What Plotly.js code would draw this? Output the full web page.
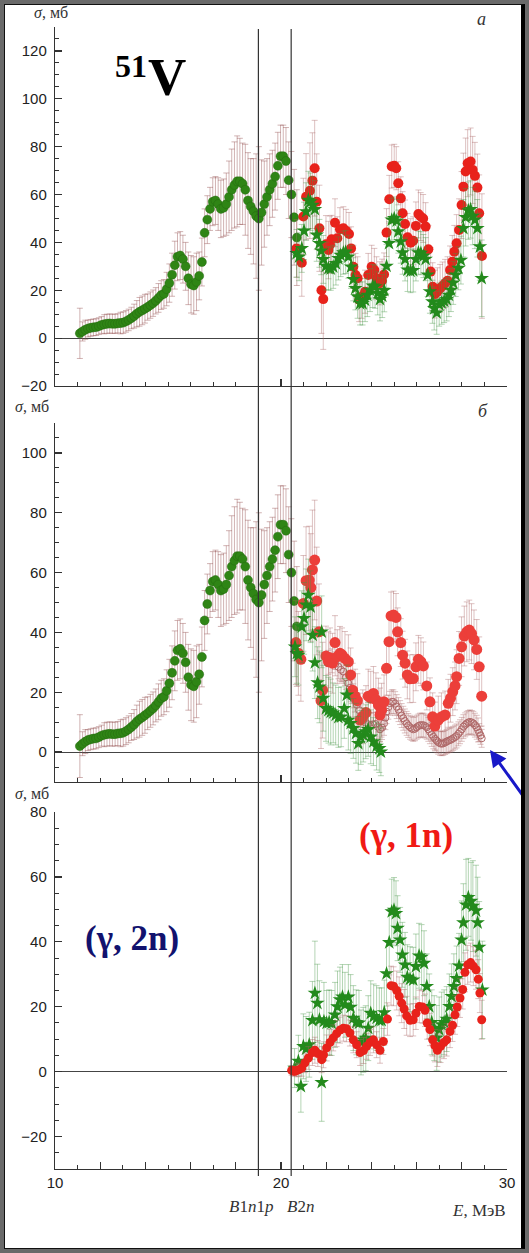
<!DOCTYPE html>
<html>
<head>
<meta charset="utf-8">
<script src="https://cdn.plot.ly/plotly-3.0.1.min.js"></script>
<style>
html,body{margin:0;padding:0;background:#fff;}
#wrap{position:relative;width:529px;height:1253px;overflow:hidden;}
#chart{position:absolute;left:0;top:0;width:529px;height:1253px;}
#frame{position:absolute;left:0;top:0;width:529px;height:1253px;box-sizing:border-box;border:4px solid #6a6a6a;pointer-events:none;}
#frame2{position:absolute;left:4px;top:4px;width:521px;height:1245px;box-sizing:border-box;border-left:1px solid #111;border-top:1px solid #111;border-bottom:1px solid #111;border-right:4px solid #000;pointer-events:none;}
</style>
</head>
<body>
<div id="wrap"><div id="chart"></div><div id="frame"></div><div id="frame2"></div></div>
<script>
// ---------- DATA ----------
// Green circles (below/around B2n), shared by panels a and b
const E_gc = [11.10,11.22,11.34,11.46,11.58,11.70,11.82,11.94,12.06,12.18,12.30,12.42,12.54,12.66,12.78,12.90,13.02,13.14,13.26,13.38,13.50,13.62,13.74,13.86,13.98,14.10,14.22,14.34,14.46,14.58,14.70,14.82,14.94,15.06,15.18,15.30,15.42,15.54,15.66,15.78,15.90,16.02,16.14,16.26,16.38,16.50,16.62,16.74,16.86,16.98,17.10,17.22,17.34,17.46,17.58,17.70,17.82,17.94,18.06,18.18,18.30,18.42,18.54,18.66,18.78,18.90,19.02,19.14,19.26,19.38,19.50,19.62,19.74,19.86,19.98,20.10,20.22,20.34,20.46,20.58,20.70];
const S_gc = [2.0,2.8,3.5,4.0,4.3,4.5,4.6,5.0,5.5,5.8,6.0,6.1,6.0,6.0,6.2,6.3,6.5,7.0,7.6,8.4,9.2,10.2,11.0,11.6,12.3,13.0,13.8,14.6,15.6,16.8,18.0,18.5,20.5,23.0,26.5,30.5,34.0,34.5,33.0,30.0,25.0,22.5,22.0,23.5,26.0,31.8,44.0,49.5,54.0,57.0,57.5,56.0,54.0,54.5,56.0,59.0,62.0,64.0,65.5,65.5,64.5,62.0,57.5,55.0,53.0,51.0,50.0,52.5,56.0,59.0,62.0,64.5,67.5,72.0,76.0,76.0,74.0,66.0,60.0,50.5,42.0];
const Err_gc = [10.5,4,4,3.5,3.5,3.5,3.5,3.5,3.5,4,4,4,4,4,4,4.5,4.5,4.5,4.5,4.5,5,5.5,6,6,6,5.5,5.5,5.5,5.5,6,6,6,7,8,9,10,10,10,10,10,11,12,12,12,10,10,10,10,9,10,10,11,12,12,13,15,17,18,19,18,17,19,20,20,22,26,30,22,18,16,15,14,14,14,13,13,14,16,18,20,20];

// Panel a: red circles
const E_ra = [20.69,20.92,20.99,21.11,21.28,21.39,21.49,21.58,21.70,21.79,21.87,21.99,22.10,22.17,22.24,22.39,22.49,22.61,22.76,22.88,23.01,23.10,23.20,23.30,23.39,23.46,23.57,23.72,23.86,24.01,24.13,24.23,24.38,24.47,24.56,24.67,24.79,24.90,25.01,25.10,25.19,25.30,25.38,25.49,25.60,25.74,25.85,25.97,26.08,26.18,26.29,26.40,26.52,26.62,26.71,26.81,26.92,27.04,27.15,27.26,27.37,27.48,27.58,27.67,27.77,27.88,27.99,28.07,28.17,28.26,28.39,28.48,28.58,28.69,28.77,28.89];
const S_ra = [37.5,31.5,50.8,59.1,61.6,65.8,71.0,57.0,45.9,20.0,16.3,39.2,36.8,39.0,41.3,48.2,41.7,45.5,45.9,44.8,43.5,37.5,29.8,26.4,25.0,15.9,17.3,19.4,26.4,29.8,28.5,25.0,22.9,24.0,26.6,44.1,58.0,71.7,72.0,71.0,64.7,58.4,52.2,47.7,42.1,39.9,40.7,46.9,51.9,50.8,50.0,46.6,37.1,27.8,21.5,18.4,19.4,20.8,21.8,22.9,24.0,28.5,31.9,36.1,39.6,45.2,55.6,63.3,69.6,73.1,73.8,70.3,67.8,62.9,52.2,34.3];
const Err_ra = [12,14,16,18,20,20,20,20,18,18,21,12,12,12,10,10,9,9,9,9,9,9,9,9,9,9,9,9,9,9,9,9,9,9,9,10,10,9,9,9,9,9,9,10,10,10,10,10,10,10,10,10,10,10,10,10,10,10,10,10,10,10,11,11,12,13,14,14,14,14,14,14,14,14,16,26];

// Panel a: green stars
const E_sa = [20.69,20.80,20.92,21.02,21.11,21.21,21.31,21.40,21.50,21.58,21.70,21.78,21.87,21.99,22.10,22.20,22.31,22.43,22.54,22.64,22.76,22.86,22.98,23.10,23.20,23.29,23.39,23.50,23.61,23.72,23.82,23.94,24.06,24.16,24.28,24.38,24.48,24.57,24.67,24.78,24.90,25.01,25.12,25.19,25.30,25.38,25.49,25.60,25.73,25.85,25.97,26.08,26.19,26.30,26.40,26.49,26.59,26.70,26.78,26.89,27.00,27.11,27.22,27.33,27.43,27.52,27.62,27.73,27.85,27.96,28.07,28.17,28.29,28.39,28.48,28.58,28.69,28.80,28.88];
const S_sa = [35.4,34.0,37.5,44.8,52.9,57.7,57.0,55.6,53.8,43.1,39.6,36.5,32.9,30.1,29.2,29.0,29.8,31.2,33.3,34.7,35.7,36.0,34.0,29.8,24.6,20.8,17.3,14.5,14.5,15.9,18.0,20.1,21.8,21.5,18.7,16.2,17.6,20.0,30.1,39.6,49.4,50.0,49.0,44.5,40.3,35.7,32.9,28.5,28.0,28.3,32.9,35.7,35.5,34.3,33.0,26.4,19.4,15.2,12.4,10.6,14.0,14.8,15.5,16.2,18.0,20.1,23.1,26.4,29.2,32.6,45.9,50.5,53.3,53.8,51.0,49.4,45.9,38.2,25.0];
const Err_sa = [10,10,10,12,12,12,12,12,12,11,10,10,10,10,9,9,9,9,9,9,9,9,9,9,9,9,9,9,9,9,9,9,9,9,9,9,9,9,9,9,9,9,9,9,9,9,9,9,9,9,9,9,9,9,9,9,9,9,9,9,9,9,9,9,9,9,9,9,9,10,12,12,12,12,12,12,12,14,16];

// Panel b: red circles
const E_rb = [20.66,20.77,20.88,20.99,21.11,21.25,21.32,21.39,21.49,21.58,21.68,21.77,21.84,21.99,22.10,22.17,22.28,22.39,22.49,22.61,22.70,22.83,22.98,23.08,23.17,23.28,23.38,23.50,23.62,23.76,23.86,23.97,24.09,24.20,24.31,24.38,24.45,24.56,24.67,24.78,24.87,24.98,25.09,25.16,25.30,25.38,25.49,25.59,25.70,25.85,25.97,26.08,26.19,26.30,26.45,26.59,26.71,26.81,26.96,27.10,27.26,27.40,27.50,27.60,27.70,27.77,27.88,27.99,28.11,28.22,28.33,28.43,28.54,28.66,28.77,28.88];
const S_rb = [36.6,33.0,31.0,49.7,57.3,57.5,55.0,60.9,64.2,50.5,40.2,17.2,20.7,32.1,30.2,31.5,29.7,36.6,31.9,33.0,32.5,31.3,30.2,25.8,20.7,18.7,17.2,10.7,11.8,13.2,18.7,18.0,19.6,17.5,15.7,12.4,14.0,16.8,28.0,36.9,45.5,45.8,45.0,40.2,36.6,32.4,29.7,25.8,24.5,24.6,28.5,31.0,30.2,28.8,22.1,16.8,11.8,8.7,10.7,11.8,12.4,16.3,18.0,20.2,22.1,25.2,31.3,35.2,38.8,40.2,40.8,39.6,37.5,34.3,28.5,18.7];
const Err_rb = [14,14,14,16,18,18,18,20,20,18,16,16,16,10,10,10,10,9,9,9,9,9,9,9,9,9,9,9,9,9,9,9,9,9,9,9,9,9,9,9,8,8,8,8,8,8,8,8,8,8,8,8,8,8,8,8,8,8,8,8,8,8,8,8,8,9,9,10,10,10,10,10,10,10,10,10];

// Panel b: green stars
const E_sb = [20.62,20.70,20.77,20.92,21.02,21.11,21.21,21.31,21.40,21.50,21.62,21.70,21.80,21.87,21.99,22.10,22.20,22.31,22.42,22.54,22.66,22.80,22.91,22.98,23.08,23.20,23.32,23.42,23.53,23.64,23.75,23.86,23.97,24.09,24.23,24.35,24.42];
const S_sb = [35.2,33.0,32.4,41.9,44.7,49.2,52.5,48.6,39.1,29.9,23.2,21.8,40.2,18.0,14.6,14.0,13.4,13.1,12.4,11.6,11.8,14.6,19.1,10.7,9.6,7.9,6.3,2.9,4.9,5.7,6.8,7.6,5.1,3.5,2.0,1.2,0.1];
const Err_sb = [10,10,10,12,12,12,12,12,12,12,12,12,12,11,11,11,11,10,10,10,10,10,10,10,10,10,10,9,9,9,9,9,9,8,8,8,8];

// Panel b: open circles
const E_ob = [22.10,22.25,22.40,22.54,22.65,22.76,22.87,22.98,23.05,23.13,23.20,23.27,23.36,23.46,23.55,23.64,23.75,23.86,23.97,24.08,24.18,24.28,24.38,24.47,24.56,24.62,24.67,24.75,24.82,24.90,24.97,25.05,25.12,25.20,25.27,25.34,25.41,25.48,25.56,25.63,25.71,25.78,25.85,25.93,26.00,26.08,26.15,26.23,26.30,26.38,26.45,26.52,26.59,26.67,26.74,26.82,26.89,26.96,27.04,27.11,27.18,27.26,27.33,27.40,27.48,27.55,27.62,27.70,27.77,27.85,27.92,28.00,28.07,28.15,28.22,28.29,28.36,28.44,28.51,28.58,28.66,28.72,28.77,28.83,28.88];
const S_ob = [30.0,30.5,29.5,28.5,27.5,26.9,25.0,23.0,21.5,20.2,18.8,17.4,15.8,14.0,12.3,10.7,9.8,9.3,9.0,9.2,9.4,8.5,7.6,8.2,9.6,11.5,13.5,15.0,16.3,16.8,16.8,16.2,15.2,14.2,13.2,12.2,11.3,10.4,9.6,8.9,8.3,7.9,7.6,7.8,8.3,8.7,9.0,9.0,9.0,8.7,8.3,7.6,6.8,5.9,5.1,4.4,3.8,3.3,2.9,2.8,2.9,3.2,3.5,3.8,4.0,4.3,4.6,5.0,5.4,6.1,6.8,7.6,8.5,9.1,9.6,9.9,10.1,9.9,9.6,9.0,8.3,7.4,6.5,5.6,4.6];
const Err_ob = [4,4,4,4,4,4,4,4,4,4,4,4,4,4,4,4,4,4,4,4,4,4,4,4,4,4,4,4,4,4,4,4,4,4,4,4,4,4,4,4,4,4,4,4,4,4,4,4,4,4,4,4,4,4,4,4,4,4,4,4,4,4,4,4,4,4,4,4,4,4,4,4,4,4,4,4,4,4,4,4,4,4,3,3,3];

// Panel c: red circles
const E_rc = [20.47,20.55,20.62,20.70,20.80,20.92,21.06,21.21,21.39,21.50,21.63,21.80,21.88,22.02,22.17,22.31,22.46,22.61,22.76,22.90,23.05,23.20,23.35,23.50,23.65,23.79,23.94,24.09,24.23,24.38,24.53,24.71,24.87,24.98,25.12,25.23,25.34,25.45,25.56,25.71,25.85,25.97,26.12,26.26,26.37,26.47,26.59,26.71,26.81,26.92,27.06,27.21,27.33,27.48,27.59,27.70,27.80,27.92,28.04,28.14,28.26,28.39,28.51,28.63,28.73,28.80,28.88];
const S_rc = [0.4,0.2,0.1,0.4,0.6,1.1,2.7,4.2,5.9,6.6,5.6,3.7,5.2,7.3,9.0,10.4,11.7,12.8,13.4,13.2,11.9,9.8,8.3,5.9,6.5,7.8,9.0,9.8,8.3,6.6,9.3,16.2,26.5,26.3,25.0,23.2,21.1,19.3,17.2,15.8,16.0,18.0,20.1,19.9,18.9,15.0,13.0,9.8,8.0,6.6,7.8,9.0,9.8,12.4,14.3,17.5,19.9,22.7,25.3,30.6,32.9,33.6,32.5,31.4,28.5,24.2,16.0];
const Err_rc = [1.5,1.5,1.5,2,2,2.5,3,3.5,4,4,4,4,4,4,4,4,4,4,4,4,4,4,4,4,4,4,4,4,4,4,4,5,6,6,6,6,6,6,6,5,5,5,5,5,5,5,5,5,5,5,5,5,5,5,5,6,6,6,6,6,6,6,6,6,6,6,6];

// Panel c: green stars
const E_sc = [20.60,20.77,20.88,20.99,21.11,21.25,21.39,21.50,21.61,21.70,21.80,21.90,22.02,22.13,22.24,22.39,22.50,22.61,22.72,22.83,22.98,23.08,23.20,23.33,23.45,23.54,23.64,23.75,23.86,23.97,24.10,24.23,24.35,24.45,24.57,24.67,24.79,24.90,25.00,25.09,25.16,25.27,25.37,25.49,25.59,25.71,25.85,25.97,26.11,26.22,26.33,26.45,26.56,26.67,26.78,26.89,27.00,27.11,27.22,27.33,27.45,27.55,27.65,27.77,27.88,27.99,28.07,28.19,28.29,28.41,28.49,28.63,28.70,28.77,28.91];
const S_sc = [1.1,3.2,-4.5,7.8,7.0,8.3,15.8,24.2,21.1,16.0,-3.3,15.5,15.0,15.2,15.0,17.5,20.0,22.2,23.0,20.6,23.0,19.9,16.5,15.2,15.0,9.0,9.8,10.3,13.4,18.0,17.0,16.5,15.8,15.8,18.2,30.2,39.8,49.3,49.8,48.8,44.2,40.6,36.0,32.9,29.1,28.5,28.3,32.4,35.7,35.3,33.4,26.3,20.1,15.2,13.4,10.4,13.0,14.5,15.2,16.2,20.1,23.2,26.3,28.7,32.6,40.6,45.9,51.4,53.7,52.5,51.0,49.6,45.9,38.4,25.2];
const Err_sc = [6,8,8,10,10,10,12,16,12,12,12,12,10,10,10,10,11,10,10,10,10,10,10,10,10,10,10,10,10,10,10,10,10,10,10,10,10,10,10,10,10,10,10,10,10,10,10,10,10,10,10,10,10,10,10,10,10,10,10,10,10,10,10,10,10,12,12,14,12,12,14,14,14,14,15];

// Axis tick labels
const yTicksA = [-20,0,20,40,60,80,100,120];
const yTicksB = [0,20,40,60,80,100];
const yTicksC = [-20,0,20,40,60,80];
const xTickVals = [10,12,14,16,18,20,22,24,26,28,30];
const xTickText = ['10','','','','','20','','','','','30'];
const thresholds = [19.0, 20.45]; // B1n1p, B2n

// ---------- LAYOUT HELPERS ----------
const W = 529, H = 1253, ML = 55, MR = 22;
const PW = W - ML - MR;
const px = p => (p - ML) / PW;
const py = p => 1 - p / H;

const GREEN = '#2f8515', RED = '#e8221b', STAR = '#238a1c';
const ebBrown = 'rgba(150,80,80,0.55)', ebGreen = 'rgba(70,150,70,0.5)', ebRed = 'rgba(170,100,100,0.5)';

function errSpec(arr, color){ return {type:'data', array:arr, visible:true, color:color, thickness:0.8, width:3}; }

const traces = [];
// Panel a
traces.push({x:E_gc, y:S_gc, xaxis:'x', yaxis:'y', mode:'markers', type:'scatter',
  marker:{color:GREEN, size:9, line:{color:'#256b10', width:0.5}}, error_y:errSpec(Err_gc, ebBrown)});
traces.push({x:E_ra, y:S_ra, xaxis:'x', yaxis:'y', mode:'markers', type:'scatter',
  marker:{color:RED, size:10}, error_y:errSpec(Err_ra, ebRed)});
traces.push({x:E_sa, y:S_sa, xaxis:'x', yaxis:'y', mode:'markers', type:'scatter',
  marker:{color:STAR, size:11, symbol:'star'}, error_y:errSpec(Err_sa, ebGreen)});
// Panel b
traces.push({x:E_gc, y:S_gc, xaxis:'x2', yaxis:'y2', mode:'markers', type:'scatter',
  marker:{color:GREEN, size:9, line:{color:'#256b10', width:0.5}}, error_y:errSpec(Err_gc, ebBrown)});
traces.push({x:E_ob, y:S_ob, xaxis:'x2', yaxis:'y2', mode:'markers', type:'scatter',
  marker:{color:'#b06a6a', size:7, symbol:'circle-open', line:{width:1}}, error_y:errSpec(Err_ob, ebRed)});
traces.push({x:E_rb, y:S_rb, xaxis:'x2', yaxis:'y2', mode:'markers', type:'scatter',
  marker:{color:'#ec3f3a', size:11}, error_y:errSpec(Err_rb, ebRed)});
traces.push({x:E_sb, y:S_sb, xaxis:'x2', yaxis:'y2', mode:'markers', type:'scatter',
  marker:{color:STAR, size:11, symbol:'star'}, error_y:errSpec(Err_sb, ebGreen)});
// Panel c
traces.push({x:E_sc, y:S_sc, xaxis:'x3', yaxis:'y3', mode:'markers', type:'scatter',
  marker:{color:STAR, size:11, symbol:'star'}, error_y:errSpec(Err_sc, ebGreen)});
traces.push({x:E_rc, y:S_rc, xaxis:'x3', yaxis:'y3', mode:'markers', type:'scatter',
  marker:{color:RED, size:9}, error_y:errSpec(Err_rc, ebRed)});

const tickFont = {family:'Arial, Liberation Sans, sans-serif', size:15, color:'#222'};
function xAxis(anchor, labels){
  return {anchor:anchor, domain:[0,1], range:[10,30], showline:true, linecolor:'#333', linewidth:1.2,
    ticks:'inside', tickmode:'array', tickvals:xTickVals, ticktext:xTickText, ticklen:7, tickwidth:1.2, tickcolor:'#333',
    minor:{ticks:'inside', tickmode:'linear', tick0:10, dtick:1, ticklen:4, tickcolor:'#333', tickwidth:1},
    showgrid:false, zeroline:false, showticklabels:labels, tickfont:tickFont, fixedrange:true};
}
function yAxis(anchor, dom, rng, tv){
  return {anchor:anchor, domain:dom, range:rng, showline:true, linecolor:'#333', linewidth:1.2,
    ticks:'inside', tickmode:'array', tickvals:tv, ticklen:7, tickwidth:1.2, tickcolor:'#333',
    minor:{ticks:'inside', tickmode:'linear', tick0:0, dtick:5, ticklen:4, tickcolor:'#333', tickwidth:1},
    showgrid:false, zeroline:true, zerolinecolor:'#444', zerolinewidth:1,
    ticklabelstandoff:4, tickfont:tickFont, fixedrange:true};
}

const serif = 'Liberation Serif, Times New Roman, serif';
const annotations = [
  {text:'<i>σ</i>, мб', x:px(32), y:py(13), xanchor:'left', yanchor:'middle', font:{family:serif, size:16, color:'#333'}},
  {text:'<i>σ</i>, мб', x:px(13), y:py(406), xanchor:'left', yanchor:'middle', font:{family:serif, size:16, color:'#333'}},
  {text:'<i>σ</i>, мб', x:px(13), y:py(793), xanchor:'left', yanchor:'middle', font:{family:serif, size:16, color:'#333'}},
  {text:'<b>51</b>', x:px(113), y:py(66), xanchor:'left', yanchor:'middle', font:{family:serif, size:32, color:'#000'}},
  {text:'<b>V</b>', x:px(146), y:py(77), xanchor:'left', yanchor:'middle', font:{family:serif, size:53, color:'#000'}},
  {text:'<i>а</i>', x:px(481), y:py(19), xanchor:'center', yanchor:'middle', font:{family:serif, size:18, color:'#333'}},
  {text:'<i>б</i>', x:px(483), y:py(411), xanchor:'center', yanchor:'middle', font:{family:serif, size:18, color:'#333'}},
  {text:'<b>(γ, 1n)</b>', x:px(406), y:py(835), xanchor:'center', yanchor:'middle', font:{family:serif, size:35, color:'#f01a14'}},
  {text:'<b>(γ, 2n)</b>', x:px(132), y:py(938), xanchor:'center', yanchor:'middle', font:{family:serif, size:35, color:'#12126e'}},
  {text:'<i>B</i>1<i>n</i>1<i>p</i>', x:px(251), y:py(1206), xanchor:'center', yanchor:'middle', font:{family:serif, size:17, color:'#333'}},
  {text:'<i>B</i>2<i>n</i>', x:px(300), y:py(1206), xanchor:'center', yanchor:'middle', font:{family:serif, size:17, color:'#333'}},
  {text:'<i>E</i>, МэВ', x:px(479), y:py(1210), xanchor:'center', yanchor:'middle', font:{family:serif, size:17, color:'#333'}},
  {text:'', x:px(490), y:py(750), ax:50, ay:54, showarrow:true, arrowhead:2, arrowsize:1.1, arrowwidth:3, arrowcolor:'#1818c8'}
].map(a => Object.assign({xref:'paper', yref:'paper', showarrow:false}, a));

const shapes = thresholds.map(t => ({type:'line', xref:'x', yref:'paper', x0:t, x1:t, y0:py(1176), y1:py(29),
  line:{color:'#333', width:1.2}}));

const layout = {
  width:W, height:H, margin:{l:ML, r:MR, t:0, b:0}, showlegend:false,
  paper_bgcolor:'#fff', plot_bgcolor:'rgba(0,0,0,0)',
  xaxis:xAxis('y', false), xaxis2:xAxis('y2', false), xaxis3:xAxis('y3', true),
  yaxis:yAxis('x', [py(386), py(27)], [-20,130], yTicksA),
  yaxis2:yAxis('x2', [py(782), py(423)], [-10,110], yTicksB),
  yaxis3:yAxis('x3', [py(1169), py(812)], [-30,80], yTicksC),
  annotations:annotations, shapes:shapes
};
Plotly.newPlot('chart', traces, layout, {staticPlot:true, displayModeBar:false});
</script>
</body>
</html>
